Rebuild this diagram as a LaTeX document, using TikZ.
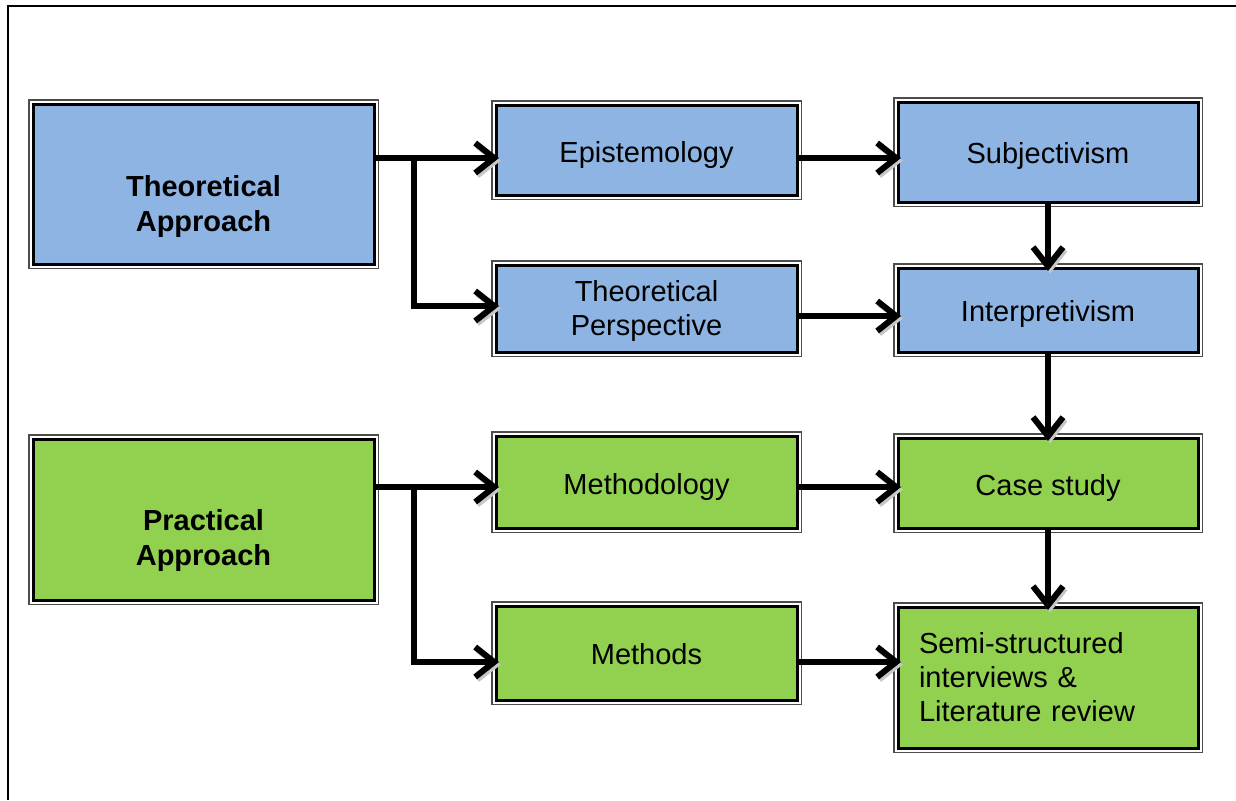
\documentclass[tikz,border=0pt]{standalone}
\usepackage{fontspec}
\setmainfont{Liberation Sans}
\usetikzlibrary{arrows.meta}
\definecolor{boxblue}{HTML}{8EB4E3}
\definecolor{boxgreen}{HTML}{92D050}
% box text: centred lines, set a little lower in the box (extra room on top)
\newcommand{\boxlines}[2][10pt]{\raisebox{0pt}[\dimexpr\height+#1\relax][\depth]{\begin{tabular}{@{}c@{}}#2\end{tabular}}}
\tikzset{
  stagebox/.style={rectangle, inner sep=0pt, outer sep=0pt,
    line width=3pt, draw=black,
    font=\fontsize{29}{34}\selectfont,
    preaction={draw=black!70, line width=10pt},
    preaction={draw=white, line width=7pt}},
  theory/.style={stagebox, fill=boxblue},
  practice/.style={stagebox, fill=boxgreen},
  headtext/.style={font=\fontsize{29}{35}\selectfont\bfseries, align=center},
  flow/.style={line width=5.5pt,
    -{Straight Barb[length=19pt,width=30pt,line width=6pt]},
    shorten >=-3pt,
    preaction={draw=black!22, transform canvas={shift={(2pt,-2.5pt)}}}},
  frameline/.style={line width=2pt, draw=black}
}
\begin{document}
\begin{tikzpicture}[x=1pt, y=-1pt]
\useasboundingbox (0,0) rectangle (1236,800);
\fill[white] (0,0) rectangle (1236,800);
\draw[frameline] (8,800) -- (8,6) -- (1236,6);

% left column: the two approaches
\node[theory, minimum width=341pt, minimum height=160pt,
  label={[headtext, yshift=-22pt]center:Theoretical\\Approach}] (TA) at (203.5,184) {};
\node[practice, minimum width=341pt, minimum height=161pt,
  label={[headtext, yshift=-21pt]center:Practical\\Approach}] (PA) at (203.5,519.5) {};

% middle column
\node[theory, minimum width=301pt, minimum height=90pt] (EP) at (646.5,150) {\boxlines[11pt]{Epistemology}};
\node[theory, minimum width=301pt, minimum height=87pt] (TP) at (646.5,308.5) {\boxlines[7pt]{Theoretical\\Perspective}};
\node[practice, minimum width=301pt, minimum height=92pt] (MG) at (646.5,482) {\boxlines[11pt]{Methodology}};
\node[practice, minimum width=301pt, minimum height=94pt] (MT) at (646.5,653) {\boxlines{Methods}};

% right column
\node[theory, minimum width=300pt, minimum height=100pt] (SU) at (1048,152) {\boxlines{Subjectivism}};
\node[theory, minimum width=300pt, minimum height=84pt] (IN) at (1048,310) {\boxlines{Interpretivism}};
\node[practice, minimum width=300pt, minimum height=90pt] (CS) at (1048,483) {\boxlines[11pt]{Case study}};
\node[practice, minimum width=300pt, minimum height=141pt, text width=258pt, align=left] (SS) at (1048,677.5)
  {Semi-structured\\interviews \&\\Literature review};

% arrow rows and branch points
\coordinate (r1) at (0,158);
\coordinate (r2) at (0,306);
\coordinate (r3) at (0,316);
\coordinate (r4) at (0,487);
\coordinate (r5) at (0,662);
\coordinate (j1) at (414,158);
\coordinate (j2) at (414,487);

\draw[flow] (TA.east |- r1) -- (EP.west |- r1);
\draw[flow] (j1) |- (TP.west |- r2);
\draw[flow] (EP.east |- r1) -- (SU.west |- r1);
\draw[flow] (TP.east |- r3) -- (IN.west |- r3);

\draw[flow] (PA.east |- r4) -- (MG.west |- r4);
\draw[flow] (j2) |- (MT.west |- r5);
\draw[flow] (MG.east |- r4) -- (CS.west |- r4);
\draw[flow] (MT.east |- r5) -- (SS.west |- r5);

\draw[flow] (SU.south) -- (IN.north);
\draw[flow] (IN.south) -- (CS.north);
\draw[flow] (CS.south) -- (SS.north);
\end{tikzpicture}
\end{document}
